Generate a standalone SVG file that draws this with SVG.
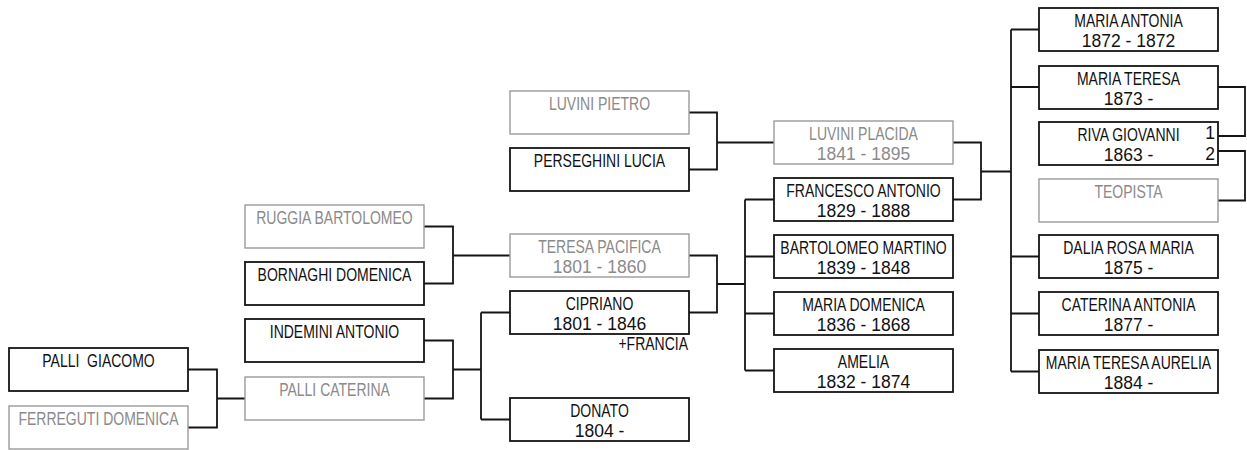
<svg xmlns="http://www.w3.org/2000/svg" width="1247" height="450" viewBox="0 0 1247 450">
<style>
.b{fill:#fff;stroke:#151515;stroke-width:1.8}
.g{fill:#fff;stroke:#9a9a9a;stroke-width:1.4}
text{font-family:"Liberation Sans",Arial,sans-serif;font-size:17.5px;text-anchor:middle}
.tb{fill:#111}
.tg{fill:#8a8a8a}
.e{text-anchor:end}
.c{fill:none;stroke:#151515;stroke-width:1.8}
</style>
<g id="connectors" class="c">
<path d="M188,369.5H217V427.5H188M217,398.5H245"/>
<path d="M424,340.5H453V398.5H424M453,369.5H481M481,312.5V419.5M481,312.5H510M481,419.5H510"/>
<path d="M424,226.5H453V283.5H424M453,255.5H510"/>
<path d="M689,255.5H717V312.5H689M717,284H745M745,199.5V370.5M745,199.5H774M745,256.5H774M745,313.5H774M745,370.5H774"/>
<path d="M689,112.5H717V169.5H689M717,142.5H774"/>
<path d="M953,142.5H981V199.5H953M981,171.5H1011M1011,29.5V371.5M1011,29.5H1039M1011,87H1039M1011,256.5H1039M1011,313.5H1039M1011,371.5H1039"/>
<path d="M1218,87H1245V136H1218"/>
<path d="M1218,151H1245V200.5H1218"/>
</g>
<g id="palli-giacomo"><rect class="b" x="9" y="348" width="179" height="43"/><text class="tb" style="white-space:pre" xml:space="preserve" transform="translate(98.5 366.5) scale(.8 1)">PALLI  GIACOMO</text></g>
<g id="ferreguti-domenica"><rect class="g" x="9" y="406" width="179" height="43"/><text class="tg" transform="translate(98.5 424.5) scale(.8 1)">FERREGUTI DOMENICA</text></g>
<g id="ruggia-bartolomeo"><rect class="g" x="245" y="205" width="179" height="43"/><text class="tg" transform="translate(334.5 223.5) scale(.8 1)">RUGGIA BARTOLOMEO</text></g>
<g id="bornaghi-domenica"><rect class="b" x="245" y="262" width="179" height="43"/><text class="tb" transform="translate(334.5 280.5) scale(.8 1)">BORNAGHI DOMENICA</text></g>
<g id="indemini-antonio"><rect class="b" x="245" y="319" width="179" height="43"/><text class="tb" transform="translate(334.5 337.5) scale(.8 1)">INDEMINI ANTONIO</text></g>
<g id="palli-caterina"><rect class="g" x="245" y="377" width="179" height="43"/><text class="tg" transform="translate(334.5 395.5) scale(.8 1)">PALLI CATERINA</text></g>
<g id="luvini-pietro"><rect class="g" x="510" y="91" width="179" height="43"/><text class="tg" transform="translate(599.5 109.5) scale(.8 1)">LUVINI PIETRO</text></g>
<g id="perseghini-lucia"><rect class="b" x="510" y="148" width="179" height="43"/><text class="tb" transform="translate(599.5 166.5) scale(.8 1)">PERSEGHINI LUCIA</text></g>
<g id="teresa-pacifica"><rect class="g" x="510" y="234" width="179" height="43"/><text class="tg" transform="translate(599.5 252.5) scale(.8 1)">TERESA PACIFICA</text><text class="tg" x="599.5" y="273">1801 - 1860</text></g>
<g id="cipriano"><rect class="b" x="510" y="291" width="179" height="43"/><text class="tb" transform="translate(599.5 309.5) scale(.8 1)">CIPRIANO</text><text class="tb" x="599.5" y="330">1801 - 1846</text><text class="tb e" transform="translate(688 350) scale(.8 1)">+FRANCIA</text></g>
<g id="donato"><rect class="b" x="510" y="398" width="179" height="43"/><text class="tb" transform="translate(599.5 416.5) scale(.8 1)">DONATO</text><text class="tb" x="599.5" y="437">1804 -</text></g>
<g id="luvini-placida"><rect class="g" x="774" y="121" width="179" height="43"/><text class="tg" transform="translate(863.5 139.5) scale(.8 1)">LUVINI PLACIDA</text><text class="tg" x="863.5" y="160">1841 - 1895</text></g>
<g id="francesco-antonio"><rect class="b" x="774" y="178" width="179" height="43"/><text class="tb" transform="translate(863.5 196.5) scale(.8 1)">FRANCESCO ANTONIO</text><text class="tb" x="863.5" y="217">1829 - 1888</text></g>
<g id="bartolomeo-martino"><rect class="b" x="774" y="235" width="179" height="43"/><text class="tb" transform="translate(863.5 253.5) scale(.8 1)">BARTOLOMEO MARTINO</text><text class="tb" x="863.5" y="274">1839 - 1848</text></g>
<g id="maria-domenica"><rect class="b" x="774" y="292" width="179" height="43"/><text class="tb" transform="translate(863.5 310.5) scale(.8 1)">MARIA DOMENICA</text><text class="tb" x="863.5" y="331">1836 - 1868</text></g>
<g id="amelia"><rect class="b" x="774" y="349" width="179" height="43"/><text class="tb" transform="translate(863.5 367.5) scale(.8 1)">AMELIA</text><text class="tb" x="863.5" y="388">1832 - 1874</text></g>
<g id="maria-antonia"><rect class="b" x="1039" y="8" width="179" height="43"/><text class="tb" transform="translate(1128.5 26.5) scale(.8 1)">MARIA ANTONIA</text><text class="tb" x="1128.5" y="47">1872 - 1872</text></g>
<g id="maria-teresa"><rect class="b" x="1039" y="66" width="179" height="43"/><text class="tb" transform="translate(1128.5 84.5) scale(.8 1)">MARIA TERESA</text><text class="tb" x="1128.5" y="105">1873 -</text></g>
<g id="riva-giovanni"><rect class="b" x="1039" y="122" width="179" height="43"/><text class="tb" transform="translate(1128.5 140.5) scale(.8 1)">RIVA GIOVANNI</text><text class="tb" x="1128.5" y="161">1863 -</text><text class="tb e" x="1215" y="139">1</text><text class="tb e" x="1215" y="160">2</text></g>
<g id="teopista"><rect class="g" x="1039" y="179" width="179" height="43"/><text class="tg" transform="translate(1128.5 197.5) scale(.8 1)">TEOPISTA</text></g>
<g id="dalia-rosa-maria"><rect class="b" x="1039" y="235" width="179" height="43"/><text class="tb" transform="translate(1128.5 253.5) scale(.8 1)">DALIA ROSA MARIA</text><text class="tb" x="1128.5" y="274">1875 -</text></g>
<g id="caterina-antonia"><rect class="b" x="1039" y="292" width="179" height="43"/><text class="tb" transform="translate(1128.5 310.5) scale(.8 1)">CATERINA ANTONIA</text><text class="tb" x="1128.5" y="331">1877 -</text></g>
<g id="maria-teresa-aurelia"><rect class="b" x="1039" y="350" width="179" height="43"/><text class="tb" transform="translate(1128.5 368.5) scale(.8 1)">MARIA TERESA AURELIA</text><text class="tb" x="1128.5" y="389">1884 -</text></g>
</svg>
